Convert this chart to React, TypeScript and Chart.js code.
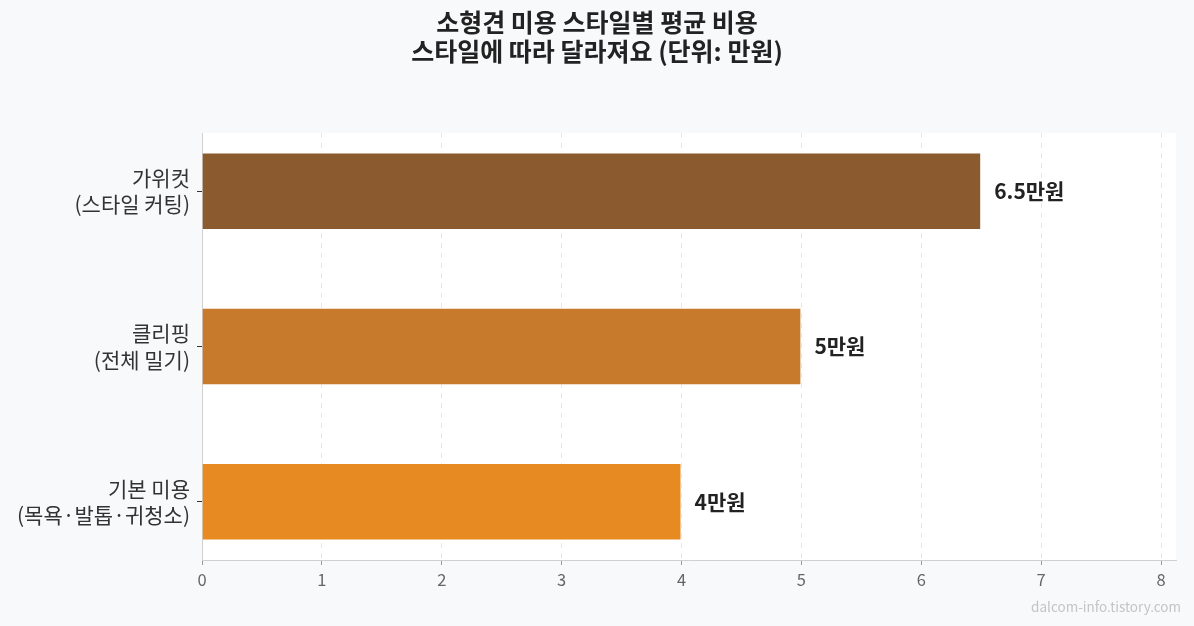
import React, { useEffect, useRef } from 'react';
import Chart from 'chart.js/auto';

const FONT = '"Noto Sans CJK KR", "Noto Sans", sans-serif';

const titleLines = ['소형견 미용 스타일별 평균 비용', '스타일에 따라 달라져요 (단위: 만원)'];
const categories = [
  ['가위컷', '(스타일 커팅)'],
  ['클리핑', '(전체 밀기)'],
  ['기본 미용', '(목욕·발톱·귀청소)'],
];
const prices = [6.5, 5, 4];
const barColors = ['#8B5A2F', '#C87A2C', '#E68A21'];
const xTicks = [0, 1, 2, 3, 4, 5, 6, 7, 8];
const watermark = 'dalcom-info.tistory.com';

const App: React.FC = () => {
  const canvasRef = useRef<HTMLCanvasElement>(null);
  const chartRef = useRef<Chart | null>(null);

  useEffect(() => {
    document.body.style.margin = '0';
    document.body.style.background = '#F8F9FA';
    if (!canvasRef.current) return;
    if (chartRef.current) chartRef.current.destroy();

    // background + plot area + titles + value labels
    const decor = {
      id: 'decor',
      beforeDraw(chart: any) {
        const { ctx, chartArea: a, width, height } = chart;
        ctx.save();
        ctx.fillStyle = '#F8F9FA';
        ctx.fillRect(0, 0, width, height);
        ctx.fillStyle = '#FFFFFF';
        ctx.fillRect(a.left, a.top, a.right - a.left, a.bottom - a.top);
        ctx.restore();
      },
      afterDraw(chart: any) {
        const { ctx, width, height } = chart;
        ctx.save();
        ctx.fillStyle = '#222222';
        ctx.textAlign = 'center';
        ctx.textBaseline = 'middle';
        ctx.font = `bold 25px ${FONT}`;
        ctx.fillText(titleLines[0], width / 2, 22);
        ctx.fillText(titleLines[1], width / 2, 51);

        const meta = chart.getDatasetMeta(0);
        ctx.textAlign = 'left';
        ctx.font = `bold 21px ${FONT}`;
        meta.data.forEach((bar: any, i: number) => {
          ctx.fillText(`${prices[i]}만원`, bar.x + 13, bar.y);
        });

        ctx.textAlign = 'right';
        ctx.font = `13.5px ${FONT}`;
        ctx.fillStyle = '#C4C4C4';
        ctx.fillText(watermark, width - 13, height - 19);
        ctx.restore();
      },
    };

    chartRef.current = new Chart(canvasRef.current, {
      type: 'bar',
      data: {
        datasets: [
          {
            data: prices.map((v, i) => ({ x: v, y: i })),
            backgroundColor: barColors,
            borderColor: 'rgba(255,255,255,0.5)',
            borderWidth: 1,
            categoryPercentage: 1,
            barPercentage: 0.5,
          },
        ],
      },
      options: {
        indexAxis: 'y',
        animation: false,
        responsive: false,
        devicePixelRatio: 1,
        layout: { padding: { left: 0, right: 18, top: 133, bottom: 0 } },
        plugins: {
          legend: { display: false },
          tooltip: { enabled: false },
        },
        scales: {
          x: {
            type: 'linear',
            min: 0,
            max: 8.125,
            afterBuildTicks(scale: any) {
              scale.ticks = xTicks.map((v) => ({ value: v }));
            },
            afterFit(scale: any) {
              scale.height = 66;
            },
            grid: {
              color: '#E6E6E6',
              lineWidth: 1,
              tickLength: 5,
              tickColor: '#999999',
            },
            border: { display: true, color: '#D0D0D0', dash: [5, 5] },
            ticks: {
              padding: 5,
              color: '#666666',
              font: { family: FONT, size: 16.5 },
            },
          },
          y: {
            type: 'linear',
            reverse: true,
            offset: false,
            min: -0.375,
            max: 2.375,
            afterBuildTicks(scale: any) {
              scale.ticks = categories.map((_, i) => ({ value: i }));
            },
            afterFit(scale: any) {
              scale.width = 202;
            },
            grid: {
              offset: false,
              drawOnChartArea: false,
              tickLength: 5,
              tickColor: '#333333',
            },
            border: { display: true, color: '#D0D0D0' },
            ticks: {
              padding: 7,
              color: '#333333',
              font: { family: FONT, size: 21, lineHeight: 1.24 },
              callback: (v: any) => categories[Number(v)] ?? '',
            },
          },
        },
      },
      plugins: [decor],
    });

    return () => {
      if (chartRef.current) {
        chartRef.current.destroy();
        chartRef.current = null;
      }
    };
  }, []);

  return (
    <div style={{ width: 1194, height: 626 }}>
      <canvas ref={canvasRef} width={1194} height={626} style={{ display: 'block' }}></canvas>
    </div>
  );
};

export default App;
